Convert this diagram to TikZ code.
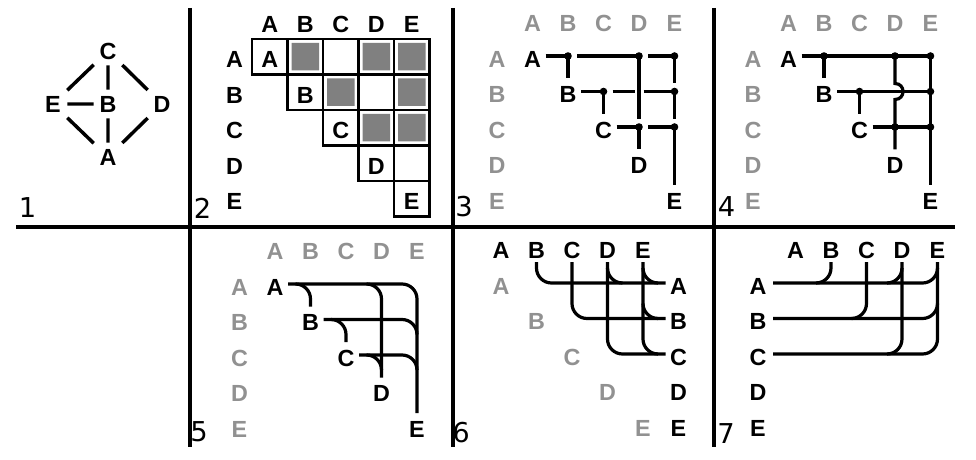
\documentclass[tikz,border=0pt]{standalone}
\usepackage{fontspec}
\setmainfont{Liberation Sans}
\newfontfamily\numfont{DejaVu Sans}
\begin{document}
\begin{tikzpicture}[x=0.75pt,y=0.75pt,yscale=-1,
  sepline/.style={line width=2.6pt},
  wire/.style={line width=2.4pt},
  gedge/.style={line width=2.6pt},
  cellline/.style={line width=1.6pt},
  cellfill/.style={fill={rgb, 255:red, 128; green, 128; blue, 128 }},
  junction/.style={fill=black},
  letter/.style={font=\fontsize{17.5}{20}\selectfont\bfseries, inner sep=0pt},
  greyletter/.style={letter, text={rgb, 255:red, 145; green, 145; blue, 145 }},
  gnode/.style={letter, minimum width=21pt, minimum height=21pt},
  panelno/.style={font=\numfont\fontsize{20.5}{24}\selectfont, inner sep=0pt}]
\useasboundingbox (0,0) rectangle (976,460);

%Straight Lines: panel borders
\draw [sepline] (16,227) -- (955,227) (190,8) -- (190,447) (453,8) -- (453,447) (714,8) -- (714,447) ;

% Text Node: panel numbers
\draw (27.5,208) node [panelno] (no1) {1};
\draw (202.5,208) node [panelno] (no2) {2};
\draw (464,207) node [panelno] (no3) {3};
\draw (726.5,207) node [panelno] (no4) {4};
\draw (199,432) node [panelno] (no5) {5};
\draw (461,433) node [panelno] (no6) {6};
\draw (726,434) node [panelno] (no7) {7};

%%% panel 1: the graph
\draw (108,51) node [gnode] (gC) {C};
\draw (53,104) node [gnode] (gE) {E};
\draw (108,104) node [gnode] (gB) {B};
\draw (162,104) node [gnode] (gD) {D};
\draw (108,157) node [gnode] (gA) {A};
%Straight Lines
\draw [gedge] (gC) -- (gB) (gE) -- (gB) (gB) -- (gA) (gC) -- (gE) (gC) -- (gD) (gE) -- (gA) (gD) -- (gA) ;

%%% panel 2: the matrix
%Shape: Rectangle (filled cells)
\fill [cellfill] (291.5,43) rectangle (319,70.5) (362.5,43) rectangle (390,70.5) (398,43) rectangle (425.5,70.5) (327,78.5) rectangle (354.5,106) (398,78.5) rectangle (425.5,106) (362.5,114) rectangle (390,141.5) (398,114) rectangle (425.5,141.5) ;
%Shape: Rectangle (cell borders)
\draw [cellline] (252,39) rectangle (287.5,74.5) (287.5,39) rectangle (323,74.5) (323,39) rectangle (358.5,74.5) (358.5,39) rectangle (394,74.5) (394,39) rectangle (429.5,74.5) ;
\draw [cellline] (287.5,74.5) rectangle (323,110) (323,74.5) rectangle (358.5,110) (358.5,74.5) rectangle (394,110) (394,74.5) rectangle (429.5,110) ;
\draw [cellline] (323,110) rectangle (358.5,145.5) (358.5,110) rectangle (394,145.5) (394,110) rectangle (429.5,145.5) ;
\draw [cellline] (358.5,145.5) rectangle (394,181) (394,145.5) rectangle (429.5,181) ;
\draw [cellline] (394,181) rectangle (429.5,216.5) ;
% Text Node
\draw (269.75,24.5) node [letter] (p2hA) {A};
\draw (305.25,24.5) node [letter] (p2hB) {B};
\draw (340.75,24.5) node [letter] (p2hC) {C};
\draw (376.25,24.5) node [letter] (p2hD) {D};
\draw (411.75,24.5) node [letter] (p2hE) {E};
\draw (234.5,59.75) node [letter] (p2rA) {A};
\draw (234.5,95.25) node [letter] (p2rB) {B};
\draw (234.5,130.75) node [letter] (p2rC) {C};
\draw (234.5,166.25) node [letter] (p2rD) {D};
\draw (234.5,201.75) node [letter] (p2rE) {E};
\draw (269.75,59.75) node [letter] (p2dA) {A};
\draw (305.25,95.25) node [letter] (p2dB) {B};
\draw (340.75,130.75) node [letter] (p2dC) {C};
\draw (376.25,166.25) node [letter] (p2dD) {D};
\draw (411.75,201.75) node [letter] (p2dE) {E};

%%% panel 3: broken lines with dots
% Text Node
\draw (532.5,23.5) node [greyletter] (p3hA) {A};
\draw (568,23.5) node [greyletter] (p3hB) {B};
\draw (603.5,23.5) node [greyletter] (p3hC) {C};
\draw (639,23.5) node [greyletter] (p3hD) {D};
\draw (674.5,23.5) node [greyletter] (p3hE) {E};
\draw (497,59) node [greyletter] (p3rA) {A};
\draw (497,94.5) node [greyletter] (p3rB) {B};
\draw (497,130) node [greyletter] (p3rC) {C};
\draw (497,165.5) node [greyletter] (p3rD) {D};
\draw (497,201) node [greyletter] (p3rE) {E};
\draw (532.5,59) node [letter] (p3dA) {A};
\draw (568,94.5) node [letter] (p3dB) {B};
\draw (603.5,130) node [letter] (p3dC) {C};
\draw (639,165.5) node [letter] (p3dD) {D};
\draw (674.5,201) node [letter] (p3dE) {E};
%Straight Lines
\draw [wire] (545.5,56) -- (568,56) (577,56) -- (639,56) (648,56) -- (674.5,56) (581,91.5) -- (603.5,91.5) (612.5,91.5) -- (634.5,91.5) (643.5,91.5) -- (674.5,91.5) (616.5,127) -- (639,127) (648,127) -- (674.5,127) ;
\draw [wire] (568,56) -- (568,78.5) (603.5,91.5) -- (603.5,114) (639,56) -- (639,119) (639,127) -- (639,149.5) (674.5,56) -- (674.5,83.5) (674.5,91.5) -- (674.5,119) (674.5,127) -- (674.5,185) ;
%Shape: Circle
\fill [junction] (568,56) circle [x radius=3.8, y radius=3.8] (639,56) circle [x radius=3.8, y radius=3.8] (674.5,56) circle [x radius=3.8, y radius=3.8] (603.5,91.5) circle [x radius=3.8, y radius=3.8] (674.5,91.5) circle [x radius=3.8, y radius=3.8] (639,127) circle [x radius=3.8, y radius=3.8] (674.5,127) circle [x radius=3.8, y radius=3.8] ;

%%% panel 4: whole lines with dots and a hop
% Text Node
\draw (788.5,23.5) node [greyletter] (p4hA) {A};
\draw (824,23.5) node [greyletter] (p4hB) {B};
\draw (859.5,23.5) node [greyletter] (p4hC) {C};
\draw (895,23.5) node [greyletter] (p4hD) {D};
\draw (930.5,23.5) node [greyletter] (p4hE) {E};
\draw (753,59) node [greyletter] (p4rA) {A};
\draw (753,94.5) node [greyletter] (p4rB) {B};
\draw (753,130) node [greyletter] (p4rC) {C};
\draw (753,165.5) node [greyletter] (p4rD) {D};
\draw (753,201) node [greyletter] (p4rE) {E};
\draw (788.5,59) node [letter] (p4dA) {A};
\draw (824,94.5) node [letter] (p4dB) {B};
\draw (859.5,130) node [letter] (p4dC) {C};
\draw (895,165.5) node [letter] (p4dD) {D};
\draw (930.5,201) node [letter] (p4dE) {E};
%Straight Lines
\draw [wire] (801.5,56) -- (930.5,56) (837,91.5) -- (930.5,91.5) (872.5,127) -- (930.5,127) ;
\draw [wire] (824,56) -- (824,78.5) (859.5,91.5) -- (859.5,114) (930.5,56) -- (930.5,185) ;
\draw [wire] (895,56) -- (895,83.5) .. controls (905.7,83.5) and (905.7,99.5) .. (895,99.5) -- (895,149.5) ;
%Shape: Circle
\fill [junction] (824,56) circle [x radius=3.8, y radius=3.8] (895,56) circle [x radius=3.8, y radius=3.8] (930.5,56) circle [x radius=3.8, y radius=3.8] (859.5,91.5) circle [x radius=3.8, y radius=3.8] (930.5,91.5) circle [x radius=3.8, y radius=3.8] (895,127) circle [x radius=3.8, y radius=3.8] (930.5,127) circle [x radius=3.8, y radius=3.8] ;

%%% panel 5: rounded branches going down
% Text Node
\draw (275,251.5) node [greyletter] (p5hA) {A};
\draw (310.5,251.5) node [greyletter] (p5hB) {B};
\draw (346,251.5) node [greyletter] (p5hC) {C};
\draw (381.5,251.5) node [greyletter] (p5hD) {D};
\draw (417,251.5) node [greyletter] (p5hE) {E};
\draw (239.5,287) node [greyletter] (p5rA) {A};
\draw (239.5,322.5) node [greyletter] (p5rB) {B};
\draw (239.5,358) node [greyletter] (p5rC) {C};
\draw (239.5,393.5) node [greyletter] (p5rD) {D};
\draw (239.5,429) node [greyletter] (p5rE) {E};
\draw (275,287) node [letter] (p5dA) {A};
\draw (310.5,322.5) node [letter] (p5dB) {B};
\draw (346,358) node [letter] (p5dC) {C};
\draw (381.5,393.5) node [letter] (p5dD) {D};
\draw (417,429) node [letter] (p5dE) {E};
%Curve Lines
\draw [wire] (288,284) -- (402,284) .. controls (410.3,284) and (417,290.7) .. (417,299) -- (417,413) ;
\draw [wire] (323.5,319.5) -- (402,319.5) .. controls (410.3,319.5) and (417,326.2) .. (417,334.5) ;
\draw [wire] (359,355) -- (402,355) .. controls (410.3,355) and (417,361.7) .. (417,370) ;
\draw [wire] (295.5,284) .. controls (303.8,284) and (310.5,290.7) .. (310.5,299) -- (310.5,306.5) ;
\draw [wire] (331,319.5) .. controls (339.3,319.5) and (346,326.2) .. (346,334.5) -- (346,342) ;
\draw [wire] (366.5,284) .. controls (374.8,284) and (381.5,290.7) .. (381.5,299) -- (381.5,377.5) ;
\draw [wire] (366.5,355) .. controls (374.8,355) and (381.5,361.7) .. (381.5,370) ;

%%% panel 6: columns bending right
% Text Node
\draw (501,250.5) node [letter] (p6hA) {A};
\draw (536.5,250.5) node [letter] (p6hB) {B};
\draw (572,250.5) node [letter] (p6hC) {C};
\draw (607.5,250.5) node [letter] (p6hD) {D};
\draw (643,250.5) node [letter] (p6hE) {E};
\draw (501,286) node [greyletter] (p6dA) {A};
\draw (536.5,321.5) node [greyletter] (p6dB) {B};
\draw (572,357) node [greyletter] (p6dC) {C};
\draw (607.5,392.5) node [greyletter] (p6dD) {D};
\draw (643,428) node [greyletter] (p6dE) {E};
\draw (678.5,286) node [letter] (p6rA) {A};
\draw (678.5,321.5) node [letter] (p6rB) {B};
\draw (678.5,357) node [letter] (p6rC) {C};
\draw (678.5,392.5) node [letter] (p6rD) {D};
\draw (678.5,428) node [letter] (p6rE) {E};
%Curve Lines
\draw [wire] (536.5,262) -- (536.5,268) .. controls (536.5,276.3) and (543.2,283) .. (551.5,283) -- (665.5,283) ;
\draw [wire] (572,262) -- (572,303.5) .. controls (572,311.8) and (578.7,318.5) .. (587,318.5) -- (665.5,318.5) ;
\draw [wire] (607.5,262) -- (607.5,339) .. controls (607.5,347.3) and (614.2,354) .. (622.5,354) -- (665.5,354) ;
\draw [wire] (643,262) -- (643,339) .. controls (643,347.3) and (649.7,354) .. (658,354) ;
\draw [wire] (607.5,268) .. controls (607.5,276.3) and (614.2,283) .. (622.5,283) ;
\draw [wire] (643,268) .. controls (643,276.3) and (649.7,283) .. (658,283) ;
\draw [wire] (643,303.5) .. controls (643,311.8) and (649.7,318.5) .. (658,318.5) ;

%%% panel 7: rows bending up
% Text Node
\draw (795.5,250.5) node [letter] (p7hA) {A};
\draw (831,250.5) node [letter] (p7hB) {B};
\draw (866.5,250.5) node [letter] (p7hC) {C};
\draw (902,250.5) node [letter] (p7hD) {D};
\draw (937.5,250.5) node [letter] (p7hE) {E};
\draw (758,286) node [letter] (p7rA) {A};
\draw (758,321.5) node [letter] (p7rB) {B};
\draw (758,357) node [letter] (p7rC) {C};
\draw (758,392.5) node [letter] (p7rD) {D};
\draw (758,428) node [letter] (p7rE) {E};
%Curve Lines
\draw [wire] (937.5,262) -- (937.5,339) .. controls (937.5,347.3) and (930.8,354) .. (922.5,354) -- (773,354) ;
\draw [wire] (773,283) -- (922.5,283) .. controls (930.8,283) and (937.5,276.3) .. (937.5,268) ;
\draw [wire] (773,318.5) -- (922.5,318.5) .. controls (930.8,318.5) and (937.5,311.8) .. (937.5,303.5) ;
\draw [wire] (831,262) -- (831,268) .. controls (831,276.3) and (824.3,283) .. (816,283) ;
\draw [wire] (866.5,262) -- (866.5,303.5) .. controls (866.5,311.8) and (859.8,318.5) .. (851.5,318.5) ;
\draw [wire] (902,262) -- (902,339) .. controls (902,347.3) and (895.3,354) .. (887,354) ;
\draw [wire] (902,268) .. controls (902,276.3) and (895.3,283) .. (887,283) ;

\end{tikzpicture}
\end{document}
